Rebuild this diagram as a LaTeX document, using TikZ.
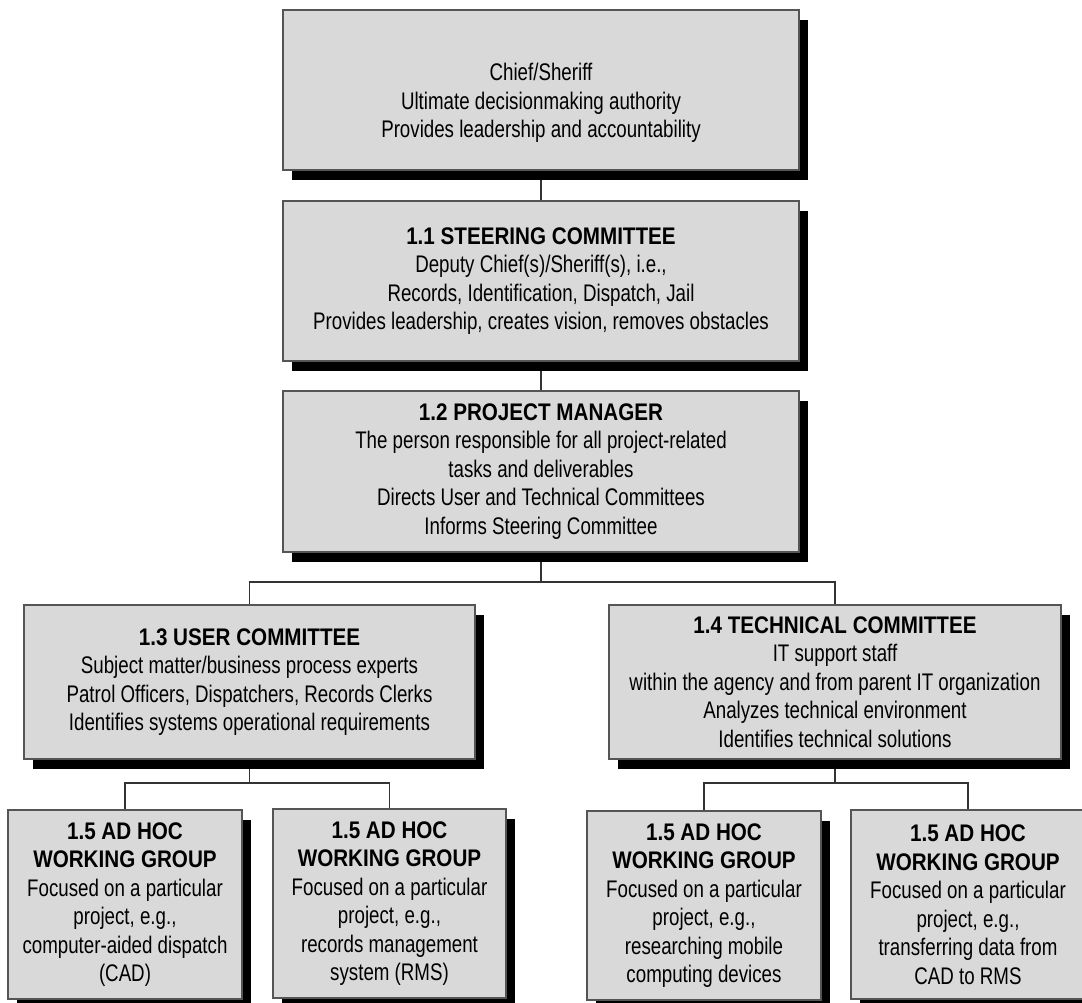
\documentclass[tikz,border=0pt]{standalone}
\usepackage{fontspec}
\setmainfont{Liberation Sans}[FakeStretch=0.78]
\newfontfamily\titlefont{Liberation Sans}[FakeStretch=0.86]
\usetikzlibrary{shadows,backgrounds}
\definecolor{boxfill}{HTML}{D9D9D9}
\definecolor{boxline}{HTML}{555555}
\definecolor{wire}{HTML}{333333}
\tikzset{
  orgbox/.style={draw=boxline, line width=1.2pt, fill=boxfill, inner sep=0pt,
    align=center, text=black,
    general shadow={fill=black, shadow xshift=9pt, shadow yshift=-10pt},
    font=\fontsize{24}{28.5}\selectfont},
  wireline/.style={draw=wire, line width=1.2pt},
}
\newcommand{\ttl}[1]{{\titlefont\bfseries #1}}
\begin{document}
\begin{tikzpicture}[x=1pt,y=-1pt]
\useasboundingbox (0,0) rectangle (1082,1002);
\clip (0,0) rectangle (1082,1002);

\node[orgbox, minimum width=516pt, minimum height=160pt] (chief) at (541,90) {};
\node[align=center, font=\fontsize{24}{28.5}\selectfont, inner sep=0pt] (chieftext) at (541,103)
  {Chief/Sheriff\\Ultimate decisionmaking authority\\Provides leadership and accountability};

\node[orgbox, minimum width=516pt, minimum height=160pt] (steer) at (541,281)
  {\ttl{1.1 STEERING COMMITTEE}\\Deputy Chief(s)/Sheriff(s), i.e.,\\Records, Identification, Dispatch, Jail\\Provides leadership, creates vision, removes obstacles};

\node[orgbox, minimum width=516pt, minimum height=161pt] (pm) at (541,471.5)
  {\ttl{1.2 PROJECT MANAGER}\\The person responsible for all project-related\\tasks and deliverables\\Directs User and Technical Committees\\Informs Steering Committee};

\node[orgbox, minimum width=451pt, minimum height=154pt] (user) at (249.5,682)
  {\ttl{1.3 USER COMMITTEE}\\Subject matter/business process experts\\Patrol Officers, Dispatchers, Records Clerks\\Identifies systems operational requirements};

\node[orgbox, minimum width=452pt, minimum height=154pt] (tech) at (835,682)
  {\ttl{1.4 TECHNICAL COMMITTEE}\\IT support staff\\within the agency and from parent IT organization\\Analyzes technical environment\\Identifies technical solutions};

\node[orgbox, minimum width=234pt, minimum height=189pt] (wga) at (125,904.5)
  {\ttl{1.5 AD HOC}\\\ttl{WORKING GROUP}\\Focused on a particular\\project, e.g.,\\computer-aided dispatch\\(CAD)};

\node[orgbox, minimum width=233pt, minimum height=189pt] (wgb) at (389.5,903.5)
  {\ttl{1.5 AD HOC}\\\ttl{WORKING GROUP}\\Focused on a particular\\project, e.g.,\\records management\\system (RMS)};

\node[orgbox, minimum width=234pt, minimum height=189pt] (wgc) at (704,905.5)
  {\ttl{1.5 AD HOC}\\\ttl{WORKING GROUP}\\Focused on a particular\\project, e.g.,\\researching mobile\\computing devices};

\node[orgbox, minimum width=234pt, minimum height=189pt] (wgd) at (968,904.5)
  {\ttl{1.5 AD HOC}\\\ttl{WORKING GROUP}\\Focused on a particular\\project, e.g.,\\transferring data from\\CAD to RMS};

\begin{scope}[on background layer]
\fill[white] (0,0) rectangle (1082,1002);
\draw[wireline] (chief.south) -- (steer.north);
\draw[wireline] (steer.south) -- (pm.north);
\coordinate (pmj) at (541,582);
\draw[wireline] (pm.south) -- (pmj);
\draw[wireline] (user.north) |- (pmj) -| (tech.north);
\coordinate (uj) at (249.5,783);
\draw[wireline] (user.south) -- (uj);
\draw[wireline] (wga.north) |- (uj) -| (wgb.north);
\coordinate (tj) at (835,783);
\draw[wireline] (tech.south) -- (tj);
\draw[wireline] (wgc.north) |- (tj) -| (wgd.north);
\end{scope}
\end{tikzpicture}
\end{document}
